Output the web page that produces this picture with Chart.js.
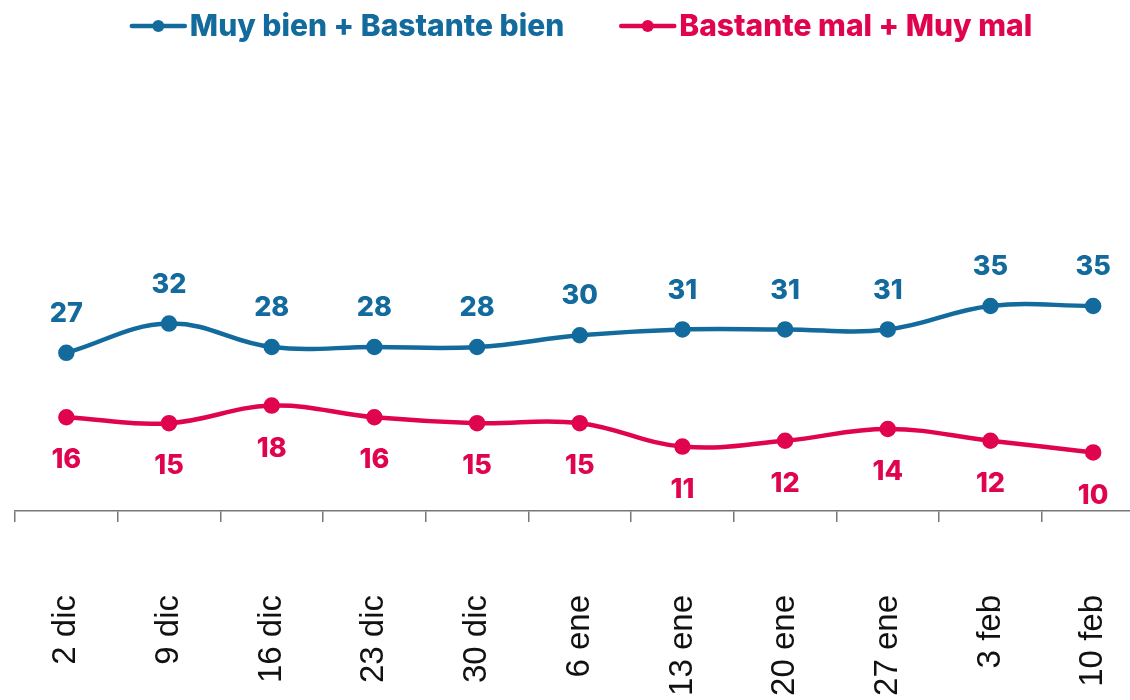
<!DOCTYPE html>
<html lang="es">
<head>
<meta charset="UTF-8">
<title>Valoración</title>
<script src="https://cdn.jsdelivr.net/npm/chart.js"></script>
<style>
    body {
        margin: 0;
        background: #fff;
        overflow: hidden;
    }
    .wrap {
        position: absolute;
        top: 0;
        left: 0;
        width: 1155px;
        height: 700px;
    }
</style>
</head>
<body>
<div class="wrap"><canvas id="grafico"></canvas></div>
<script>
    const semanas = ['2 dic', '9 dic', '16 dic', '23 dic', '30 dic', '6 ene', '13 ene', '20 ene', '27 ene', '3 feb', '10 feb'];
    const bien = [27, 32, 28, 28, 28, 30, 31, 31, 31, 35, 35];
    const mal = [16, 15, 18, 16, 15, 15, 11, 12, 14, 12, 10];

    const AZUL = '#136a9d';
    const ROJO = '#e0044f';
    const fuerteFont = 'Inter, "Open Sans", sans-serif';

    // etiquetas de valores encima / debajo de cada punto
    const etiquetas = {
        id: 'etiquetas',
        afterDatasetsDraw(chart) {
            const ctx = chart.ctx;
            ctx.save();
            ctx.font = '800 27px ' + fuerteFont;
            ctx.textAlign = 'center';
            ctx.textBaseline = 'middle';
            chart.data.datasets.forEach((ds, i) => {
                const meta = chart.getDatasetMeta(i);
                ctx.fillStyle = ds.borderColor;
                meta.data.forEach((p, j) => {
                    const dy = i === 0 ? -39 : 43;
                    ctx.fillText(ds.data[j], p.x, p.y + dy);
                });
            });
            ctx.restore();
        }
    };

    // leyenda: línea con punto + texto
    const leyenda = {
        id: 'leyenda',
        afterDraw(chart) {
            const ctx = chart.ctx;
            ctx.save();
            ctx.font = '800 30px ' + fuerteFont;
            ctx.textBaseline = 'middle';
            const marca = 57, hueco = 3, sep = 55;
            const anchos = chart.data.datasets.map(ds => ctx.measureText(ds.label).width);
            let total = 0;
            anchos.forEach((w, i) => { total += marca + hueco + w + (i ? sep : 0); });
            let x = 581 - total / 2;
            const y = 26;
            chart.data.datasets.forEach((ds, i) => {
                ctx.strokeStyle = ds.borderColor;
                ctx.fillStyle = ds.borderColor;
                ctx.lineWidth = 4.5;
                ctx.lineCap = 'round';
                ctx.beginPath();
                ctx.moveTo(x + 2, y);
                ctx.lineTo(x + marca - 2, y);
                ctx.stroke();
                ctx.beginPath();
                ctx.arc(x + marca / 2, y, 6, 0, Math.PI * 2);
                ctx.fill();
                ctx.fillText(ds.label, x + marca + hueco, y + 1);
                x += marca + hueco + anchos[i] + sep;
            });
            ctx.restore();
        }
    };

    new Chart(document.getElementById('grafico'), {
        type: 'line',
        data: {
            labels: semanas,
            datasets: [{
                label: 'Muy bien + Bastante bien',
                data: bien,
                borderColor: AZUL,
                backgroundColor: AZUL,
                borderWidth: 4.5,
                pointRadius: 6,
                pointHoverRadius: 6,
                tension: 0.4
            }, {
                label: 'Bastante mal + Muy mal',
                data: mal,
                borderColor: ROJO,
                backgroundColor: ROJO,
                borderWidth: 4.5,
                pointRadius: 6,
                pointHoverRadius: 6,
                tension: 0.4
            }]
        },
        options: {
            responsive: true,
            maintainAspectRatio: false,
            animation: false,
            layout: { padding: { left: 15, top: 60, right: 0, bottom: 0 } },
            plugins: {
                legend: { display: false },
                tooltip: { enabled: false }
            },
            scales: {
                x: {
                    offset: true,
                    afterFit(scale) {
                        scale.height = 189;
                        scale.paddingLeft = 0;
                        scale.paddingRight = 0;
                    },
                    grid: {
                        offset: true,
                        drawOnChartArea: false,
                        drawTicks: true,
                        tickLength: 11,
                        color: '#777',
                        lineWidth: 1.5
                    },
                    border: { display: true, color: '#777', width: 1.5 },
                    ticks: {
                        autoSkip: false,
                        minRotation: 90,
                        maxRotation: 90,
                        padding: 73,
                        color: '#111',
                        font: { family: '"Liberation Sans", Arial, sans-serif', size: 33 }
                    }
                },
                y: {
                    display: false,
                    min: 0,
                    max: 77
                }
            }
        },
        plugins: [etiquetas, leyenda]
    });
</script>
</body>
</html>
